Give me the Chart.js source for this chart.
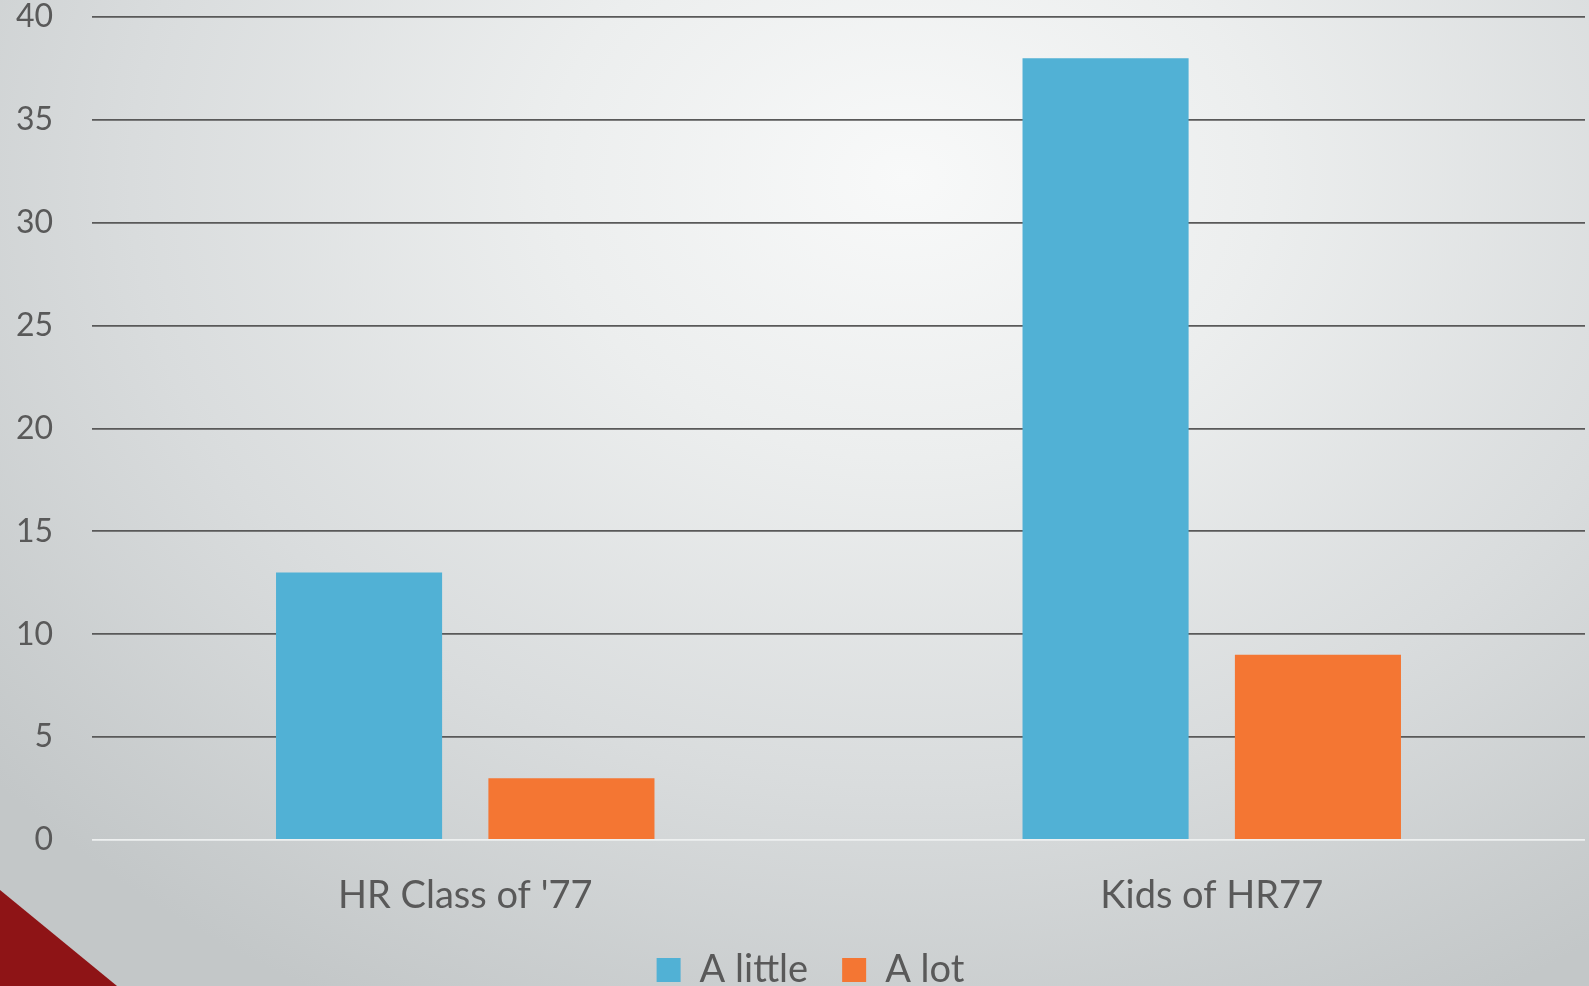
<!DOCTYPE html>
<html>
<head>
<meta charset="utf-8">
<script src="https://cdn.jsdelivr.net/npm/chart.js@4/dist/chart.umd.min.js"></script>
<style>
html,body{margin:0;padding:0;width:1589px;height:986px;overflow:hidden;}
body{background:radial-gradient(ellipse 75% 95% at 57% 18%, #f8f9f9 0%, #eceeee 30%, #d9dcdd 65%, #c3c7c8 100%);position:relative;}
#wrap{position:absolute;left:0;top:0;width:1589px;height:986px;}
#tri{position:absolute;left:0;bottom:0;width:117px;height:96px;background:#8e1416;clip-path:polygon(0 0,100% 100%,0 100%);}
</style>
</head>
<body>
<div id="tri"></div>
<div id="wrap"><canvas id="c" width="1589" height="986"></canvas></div>
<script>
const categories = ["HR Class of '77", "Kids of HR77"];
const seriesNames = ["A little", "A lot"];
const aLittle = [13, 38];
const aLot = [3, 9];
const yTicks = [0, 5, 10, 15, 20, 25, 30, 35, 40];

const textColor = '#595959';
const font = "Lato, 'Open Sans', sans-serif";

const legendShift = {
  id: 'legendShift',
  afterLayout(chart) {
    if (chart.legend) { chart.legend.left += 18; chart.legend.right += 18; }
  }
};

new Chart(document.getElementById('c'), {
  type: 'bar',
  data: {
    labels: categories,
    datasets: [
      {label: seriesNames[0], data: aLittle, backgroundColor: '#51b1d5', categoryPercentage: 0.569, barPercentage: 0.782},
      {label: seriesNames[1], data: aLot, backgroundColor: '#f47633', categoryPercentage: 0.569, barPercentage: 0.782}
    ]
  },
  plugins: [legendShift],
  options: {
    responsive: false,
    animation: false,
    layout: {padding: {top: 17, right: 4, left: 0, bottom: -13}},
    plugins: {
      tooltip: {enabled: false},
      legend: {
        position: 'bottom',
        labels: {
          boxWidth: 24, boxHeight: 24, padding: 34,
          color: textColor,
          font: {family: font, size: 38}
        }
      }
    },
    scales: {
      x: {
        afterFit: s => { s.height = 77; s.paddingLeft = 0; s.paddingRight = 0; },
        grid: {display: false},
        border: {display: false},
        ticks: {color: textColor, font: {family: font, size: 38}, padding: 25}
      },
      y: {
        min: 0, max: 40,
        afterFit: s => { s.width = 92; s.paddingTop = 0; s.paddingBottom = 0; },
        afterBuildTicks: s => { s.ticks = yTicks.map(v => ({value: v})); },
        border: {display: false},
        grid: {
          drawTicks: false,
          lineWidth: 1.8,
          color: ctx => (ctx.tick && ctx.tick.value === 0) ? '#eef0f0' : '#595959'
        },
        ticks: {color: textColor, font: {family: font, size: 32}, padding: 39}
      }
    }
  }
});
</script>
</body>
</html>
